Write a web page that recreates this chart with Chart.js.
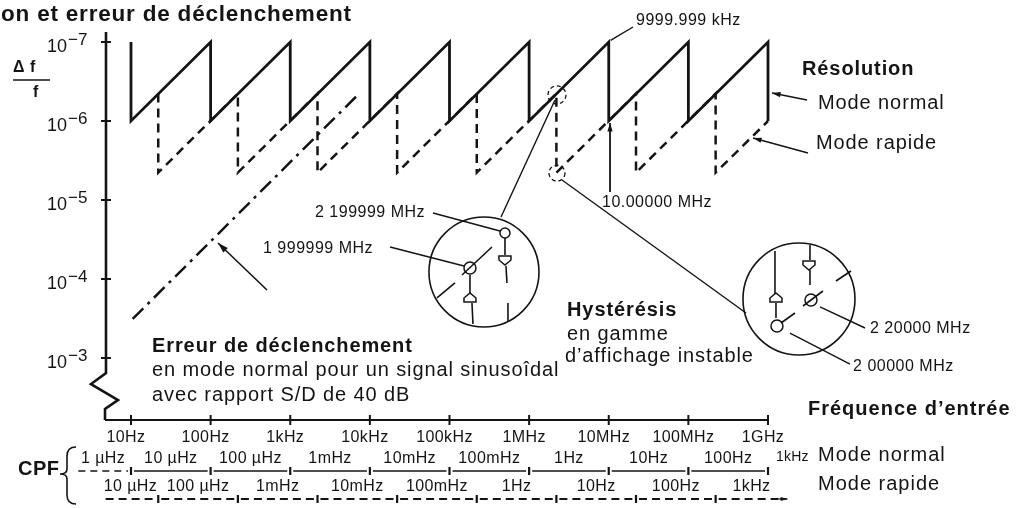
<!DOCTYPE html>
<html lang="fr">
<head>
<meta charset="utf-8">
<title>Résolution et erreur de déclenchement</title>
<script src="https://cdn.jsdelivr.net/npm/chart.js@4.4.1/dist/chart.umd.min.js"></script>
<style>
  html, body { margin: 0; padding: 0; background: #fff; }
  #wrap { width: 1018px; height: 508px; }
</style>
</head>
<body>
<div id="wrap"><canvas id="cpfChart" width="1018" height="508"></canvas></div>
<script>
// axes
const decadeFreqs = [10, 100, 1e3, 1e4, 1e5, 1e6, 1e7, 1e8, 1e9];
const freqLabels = ['10Hz', '100Hz', '1kHz', '10kHz', '100kHz', '1MHz', '10MHz', '100MHz', '1GHz'];
const ratioTicks = [1e-7, 1e-6, 1e-5, 1e-4, 1e-3];
const ratioExp = ['−7', '−6', '−5', '−4', '−3'];

// Résolution - mode normal (dent de scie)
const normalFreq = [10, 10, 100, 100, 1e3, 1e3, 1e4, 1e4, 1e5, 1e5, 1e6, 1e6, 1e7, 1e7, 1e8, 1e8, 1e9, 1e9];
const normalRes = [1e-7, 1e-6, 1e-7, 1e-6, 1e-7, 1e-6, 1e-7, 1e-6, 1e-7, 1e-6, 1e-7, 1e-6, 1e-7, 1e-6, 1e-7, 1e-6, 1e-7, 1e-6];

// Résolution - mode rapide
const rapidFreq = [22, 22, 220, 220, 2200, 2200, 22e3, 22e3, 220e3, 220e3, 2.2e6, 2.2e6, 22e6, 22e6, 220e6, 220e6, 1e9];
const rapidRes = [4.5e-7, 4.5e-6, 4.5e-7, 4.5e-6, 4.5e-7, 4.5e-6, 4.5e-7, 4.5e-6, 4.5e-7, 4.5e-6, 4.5e-7, 4.5e-6, 4.5e-7, 4.5e-6, 4.5e-7, 4.5e-6, 1e-6];

// Erreur de déclenchement (S/D 40 dB)
const trigFreq = [10.5, 7500];
const trigRes = [3.2e-4, 4.4e-7];

// CPF
const cpfNormalEdges = [2, 10, 100, 1e3, 1e4, 1e5, 1e6, 1e7, 1e8, 1e9];
const cpfNormalLabels = ['1 µHz', '10 µHz', '100 µHz', '1mHz', '10mHz', '100mHz', '1Hz', '10Hz', '100Hz', '1kHz'];
const cpfRapidEdges = [4.4, 22, 220, 2200, 22e3, 220e3, 2.2e6, 22e6, 220e6, 1.75e9];
const cpfRapidLabels = ['10 µHz', '100 µHz', '1mHz', '10mHz', '100mHz', '1Hz', '10Hz', '100Hz', '1kHz'];

const INK = '#141414';
const SANS = '"Liberation Sans", Arial, Helvetica, sans-serif';

function label(ctx, s, x, y, size, opts = {}) {
  ctx.save();
  ctx.font = (opts.bold ? 'bold ' : '') + size + 'px ' + SANS;
  ctx.letterSpacing = (opts.spacing ?? 0.8) + 'px';
  ctx.textAlign = opts.align || 'left';
  ctx.textBaseline = 'alphabetic';
  ctx.fillStyle = INK;
  ctx.fillText(s, x, y);
  ctx.restore();
}

function line(ctx, pts, w = 1.4, dash = []) {
  ctx.save();
  ctx.strokeStyle = INK;
  ctx.lineWidth = w;
  ctx.setLineDash(dash);
  ctx.beginPath();
  pts.forEach(([x, y], i) => i ? ctx.lineTo(x, y) : ctx.moveTo(x, y));
  ctx.stroke();
  ctx.restore();
}

function arrow(ctx, a, b, w = 1.4, head = 9) {
  line(ctx, [a, b], w);
  const ang = Math.atan2(b[1] - a[1], b[0] - a[0]);
  ctx.save();
  ctx.fillStyle = INK;
  ctx.beginPath();
  ctx.moveTo(b[0], b[1]);
  ctx.lineTo(b[0] - head * Math.cos(ang - 0.3), b[1] - head * Math.sin(ang - 0.3));
  ctx.lineTo(b[0] - head * Math.cos(ang + 0.3), b[1] - head * Math.sin(ang + 0.3));
  ctx.closePath();
  ctx.fill();
  ctx.restore();
}

function ring(ctx, [x, y], r, w = 1.4, dash = []) {
  ctx.save();
  ctx.strokeStyle = INK;
  ctx.lineWidth = w;
  ctx.setLineDash(dash);
  ctx.beginPath();
  ctx.arc(x, y, r, 0, Math.PI * 2);
  ctx.stroke();
  ctx.restore();
}

// petit repère en forme de maison (dir 1 = pointe en bas)
function house(ctx, x, y, dir) {
  const p = [[-6, -4 * dir], [6, -4 * dir], [6, 0], [0, 5 * dir], [-6, 0]];
  ctx.save();
  ctx.strokeStyle = INK;
  ctx.fillStyle = '#fff';
  ctx.lineWidth = 1.5;
  ctx.beginPath();
  p.forEach(([dx, dy], i) => i ? ctx.lineTo(x + dx, y + dy) : ctx.moveTo(x + dx, y + dy));
  ctx.closePath();
  ctx.fill();
  ctx.stroke();
  ctx.restore();
}

const inkPlugin = {
  id: 'ink',
  afterDatasetsDraw(chart) {
    const { ctx, chartArea: area, scales: { x: xs, y: ys } } = chart;
    const fx = f => xs.getPixelForValue(f);
    const ry = v => ys.getPixelForValue(v);
    const at = (lf, lv) => [fx(Math.pow(10, lf)), ry(Math.pow(10, lv))];
    const axX = area.left + 1;
    const axY = area.bottom;

    // axe vertical avec coupure
    const yb = ry(1.55e-3);
    line(ctx, [[axX, area.top - 3], [axX, yb], [axX - 15, yb + 11], [axX + 12, yb + 27], [axX - 1, yb + 36], [axX - 1, axY]], 2.6);
    // axe horizontal
    line(ctx, [[area.left, axY], [area.right, axY]], 2.2);

    ratioTicks.forEach((v, i) => {
      const y = ry(v);
      line(ctx, [[axX - 5, y], [axX + 5, y]], 2);
      label(ctx, '10', axX - 39, y + 10, 18, { align: 'right', spacing: 0 });
      label(ctx, ratioExp[i], axX - 38, y + 3, 17, { spacing: 0 });
    });

    const y7 = ry(1e-7);
    label(ctx, 'Δ f', axX - 93, y7 + 30, 16, { bold: true, spacing: 0.5 });
    line(ctx, [[axX - 93, y7 + 38], [axX - 56, y7 + 38]], 1.6);
    label(ctx, 'f', axX - 73, y7 + 55, 16, { bold: true, spacing: 0 });

    decadeFreqs.forEach((f, i) => {
      const x = fx(f);
      line(ctx, [[x, axY - 5], [x, axY + 5]], 2);
      label(ctx, freqLabels[i], x - 5, axY + 22, 16, { align: 'center', spacing: 0.4 });
    });

    label(ctx, 'on et erreur de déclenchement', 1, 21, 22.5, { bold: true });
    label(ctx, 'Fréquence d’entrée', area.right + 40, axY - 5, 20, { bold: true, spacing: 1 });

    // lignes CPF
    const nLine = axY + 51, nText = axY + 43;
    for (let i = 0; i < cpfNormalEdges.length - 1; i++) {
      const x0 = fx(cpfNormalEdges[i]), x1 = fx(cpfNormalEdges[i + 1]);
      line(ctx, [[x0 + 3, nLine], [x1 - 3, nLine]], 1.7, i === 0 ? [7, 5] : []);
      line(ctx, [[x1, nLine - 4], [x1, nLine + 4]], 2.2);
      label(ctx, cpfNormalLabels[i], (x0 + x1) / 2, nText, 16, { align: 'center', spacing: 0.4 });
    }
    label(ctx, cpfNormalLabels[cpfNormalLabels.length - 1], area.right + 8, nText - 2, 14, { spacing: 0.2 });
    label(ctx, 'Mode normal', area.right + 50, nText - 2, 20, { spacing: 1 });

    const rLine = axY + 79, rText = axY + 71;
    for (let i = 0; i < cpfRapidEdges.length - 1; i++) {
      const x0 = fx(cpfRapidEdges[i]), x1 = fx(cpfRapidEdges[i + 1]);
      const last = i === cpfRapidEdges.length - 2;
      if (last) {
        line(ctx, [[x0 + 3, rLine], [x1 - 6, rLine]], 1.8, [8, 5]);
        arrow(ctx, [x1 - 8, rLine], [x1, rLine], 1.6, 7);
      } else {
        line(ctx, [[x0 + 3, rLine], [x1 - 3, rLine]], 1.8, [8, 5]);
        line(ctx, [[x1, rLine - 4], [x1, rLine + 4]], 2.2);
      }
      label(ctx, cpfRapidLabels[i], (x0 + x1) / 2, rText, 16, { align: 'center', spacing: 0.4 });
    }
    label(ctx, 'Mode rapide', area.right + 50, rText - 1, 20, { spacing: 1 });

    label(ctx, 'CPF', 18, axY + 55, 20, { bold: true, spacing: 0.5 });
    ctx.save();
    ctx.strokeStyle = INK;
    ctx.lineWidth = 1.6;
    ctx.beginPath();
    const bx = 67, bt = axY + 27, bm = axY + 54, bbm = axY + 84;
    ctx.moveTo(bx + 9, bt);
    ctx.quadraticCurveTo(bx, bt, bx, bt + 9);
    ctx.lineTo(bx, bm - 5);
    ctx.quadraticCurveTo(bx, bm, bx - 7, bm);
    ctx.quadraticCurveTo(bx, bm, bx, bm + 5);
    ctx.lineTo(bx, bbm - 9);
    ctx.quadraticCurveTo(bx, bbm, bx + 9, bbm);
    ctx.stroke();
    ctx.restore();

    // annotations
    const notes = [
      ['9999.999 kHz', 7.342, -7.215, 16, false],
      ['Résolution', 9.427, -6.582, 20, true],
      ['Mode normal', 9.628, -6.152, 20, false],
      ['Mode rapide', 9.603, -5.646, 20, false],
      ['10.00000 MHz', 6.915, -4.911, 16, false],
      ['2 199999 MHz', 3.311, -4.785, 16, false],
      ['1 999999 MHz', 2.658, -4.329, 16, false],
      ['Hystérésis', 6.476, -3.532, 20, true],
      ['en gamme', 6.476, -3.228, 20, false],
      ['d’affichage instable', 6.45, -2.949, 20, false],
      ['Erreur de déclenchement', 1.264, -3.076, 20, true],
      ['en mode normal pour un signal sinusoîdal', 1.264, -2.772, 20, false],
      ['avec rapport S/D de 40 dB', 1.264, -2.456, 20, false],
      ['2 20000 MHz', 10.281, -3.316, 16, false],
      ['2 00000 MHz', 10.068, -2.835, 16, false]
    ];
    notes.forEach(([s, lf, lv, size, bold]) => {
      const [x, y] = at(lf, lv);
      label(ctx, s, x, y, size, { bold, spacing: size > 16 ? 0.9 : 0.5 });
    });

    arrow(ctx, at(9.490, -6.266), at(9.050, -6.354));
    arrow(ctx, at(9.502, -5.595), at(8.812, -5.785));
    arrow(ctx, at(7.016, -5.101), at(7.016, -5.975), 1.8);
    arrow(ctx, at(2.708, -3.861), at(2.093, -4.456), 1.6, 11);

    line(ctx, [at(7.305, -7.19), at(7.07, -7.05), at(7.025, -7.02)]);
    line(ctx, [at(4.793, -4.835), at(5.634, -4.608)]);
    line(ctx, [at(4.253, -4.405), at(5.182, -4.165)]);
    line(ctx, [at(6.325, -6.266), at(5.647, -4.785)]);
    line(ctx, [at(6.413, -5.253), at(8.724, -3.570)]);
    line(ctx, [at(9.653, -3.646), at(10.218, -3.380)]);
    line(ctx, [at(9.276, -3.316), at(10.03, -2.924)]);

    ring(ctx, at(6.35, -6.33), 9, 1.3, [4, 3]);
    ring(ctx, at(6.35, -5.34), 8, 1.3, [4, 3]);

    // loupe gauche
    const [lx, ly] = at(5.433, -4.089);
    ring(ctx, [lx, ly], 55, 1.6);
    ring(ctx, [lx + 21, ly - 39], 5, 1.5);
    line(ctx, [[lx + 21, ly - 34], [lx + 21, ly - 17]], 1.6);
    line(ctx, [[lx + 22, ly - 6], [lx + 23, ly + 11]], 1.6);
    line(ctx, [[lx + 24, ly + 31], [lx + 24, ly + 50]], 1.6);
    house(ctx, lx + 21, ly - 12, 1);
    ring(ctx, [lx - 14, ly - 4], 6, 1.5);
    line(ctx, [[lx - 14, ly + 3], [lx - 14, ly + 21]], 1.6);
    line(ctx, [[lx - 12, ly + 31], [lx - 11, ly + 52]], 1.6);
    house(ctx, lx - 14, ly + 26, -1);
    line(ctx, [[lx - 22, ly + 3], [lx + 8, ly - 25]], 1.6);
    line(ctx, [[lx - 47, ly + 26], [lx - 29, ly + 11]], 1.6);

    // loupe droite
    const [rx, rxy] = at(9.389, -3.747);
    ring(ctx, [rx, rxy], 56, 1.6);
    line(ctx, [[rx - 24, rxy - 48], [rx - 24, rxy - 5]], 1.6);
    house(ctx, rx - 23, rxy - 1, -1);
    line(ctx, [[rx - 23, rxy + 4], [rx - 23, rxy + 19]], 1.6);
    ring(ctx, [rx - 22, rxy + 27], 6, 1.5);
    line(ctx, [[rx + 11, rxy - 54], [rx + 11, rxy - 39]], 1.6);
    house(ctx, rx + 10, rxy - 34, 1);
    line(ctx, [[rx + 11, rxy - 29], [rx + 11, rxy - 14]], 1.6);
    ring(ctx, [rx + 12, rxy + 1], 6, 1.5);
    line(ctx, [[rx - 18, rxy + 24], [rx - 4, rxy + 14]], 1.6);
    line(ctx, [[rx + 4, rxy + 7], [rx + 24, rxy - 8]], 1.6);
    line(ctx, [[rx + 37, rxy - 18], [rx + 52, rxy - 28]], 1.6);
  }
};

const toPts = (xs, ys) => xs.map((x, i) => ({ x, y: ys[i] }));

const cpfChart = new Chart(document.getElementById('cpfChart'), {
  type: 'scatter',
  data: {
    datasets: [
      {
        label: 'Mode normal',
        data: toPts(normalFreq, normalRes),
        showLine: true, borderColor: INK, borderWidth: 2.8, pointRadius: 0, clip: false
      },
      {
        label: 'Mode rapide',
        data: toPts(rapidFreq, rapidRes),
        showLine: true, borderColor: INK, borderWidth: 2.5, borderDash: [9, 6], pointRadius: 0, clip: false
      },
      {
        label: 'Erreur de déclenchement',
        data: toPts(trigFreq, trigRes),
        showLine: true, borderColor: INK, borderWidth: 2.5, borderDash: [15, 6, 3, 6], pointRadius: 0, clip: false
      }
    ]
  },
  options: {
    responsive: false,
    animation: false,
    layout: { padding: { left: 105, right: 250, top: 35, bottom: 88 } },
    scales: {
      x: { type: 'logarithmic', min: 4.716, max: 1e9, display: false },
      y: { type: 'logarithmic', reverse: true, min: 8.155e-8, max: 6.09e-3, display: false }
    },
    plugins: { legend: { display: false }, tooltip: { enabled: false } }
  },
  plugins: [inkPlugin]
});
</script>
</body>
</html>
